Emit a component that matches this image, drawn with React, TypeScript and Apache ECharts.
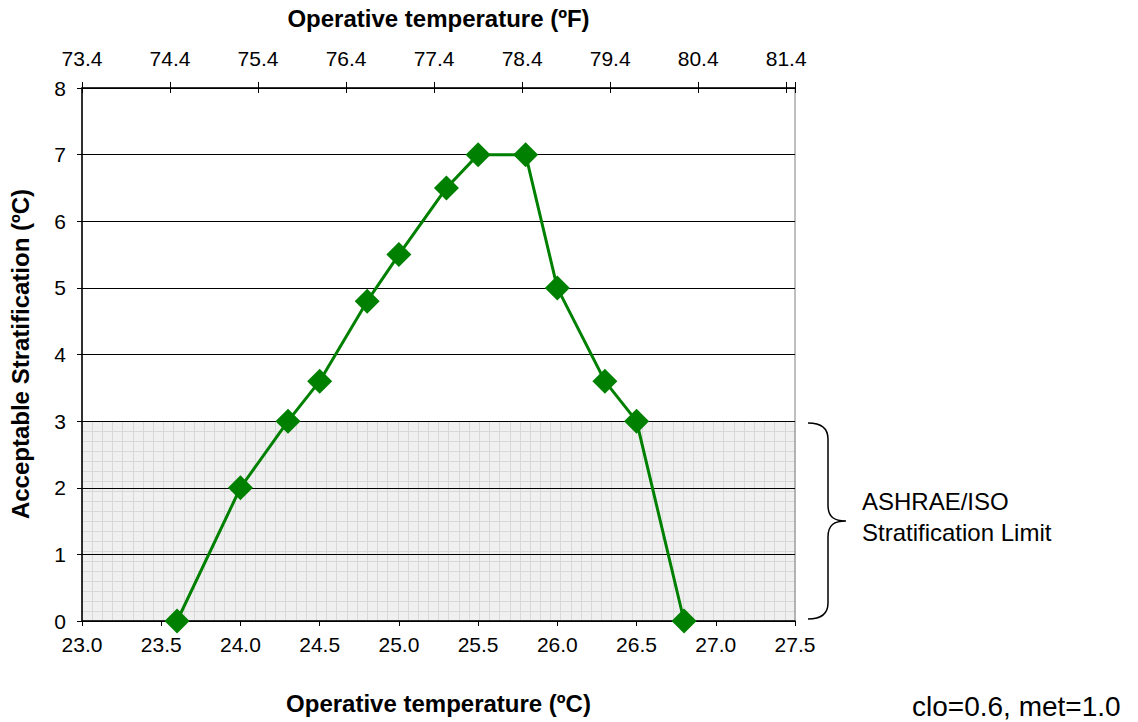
import React, { useEffect, useRef } from "react";
import * as echarts from "echarts";

// Data
const tempC: number[] = [23.6, 24.0, 24.3, 24.5, 24.8, 25.0, 25.3, 25.5, 25.8, 26.0, 26.3, 26.5, 26.8];
const stratification: number[] = [0, 2, 3, 3.6, 4.8, 5.5, 6.5, 7, 7, 5, 3.6, 3, 0];
const limitBand: number[] = [0, 3];
const xMinC = 23.0;
const xMaxC = 27.5;
const fOffset = 73.4; // 23.0 ºC in ºF

const FONT = "'Liberation Sans', Arial, Helvetica, sans-serif";
const BRACE =
  "M0,0 C12,0 20,4 20,16 L20,82 C20,94 26,98 38,98 C26,98 20,102 20,114 L20,180 C20,192 12,196 0,196";

let braceRegistered = false;

export default function App() {
  const ref = useRef<HTMLDivElement>(null);

  useEffect(() => {
    if (!ref.current) return;
    if (!braceRegistered) {
      echarts.graphic.registerShape("brace", echarts.graphic.extendPath(BRACE, {}));
      braceRegistered = true;
    }
    const chart = echarts.init(ref.current, undefined, { renderer: "svg" });
    const data = tempC.map((x, i) => [x, stratification[i]]);
    const fMax = (xMaxC * 9) / 5 + 32 - fOffset;

    chart.setOption({
      animation: false,
      backgroundColor: "#ffffff",
      textStyle: { fontFamily: FONT },
      grid: [
        { left: 82, right: 343, top: 88, bottom: 101, show: true, borderColor: "#808080", borderWidth: 1, backgroundColor: "transparent" },
        { left: 82, right: 343, top: 421.125, bottom: 101, show: false },
      ],
      xAxis: [
        {
          type: "value", gridIndex: 0, position: "bottom", min: xMinC, max: xMaxC, interval: 0.5,
          axisLine: { show: true, lineStyle: { color: "#000", width: 1.5 } },
          axisTick: { show: true, length: 5, lineStyle: { color: "#000" } },
          axisLabel: { fontSize: 21, color: "#000", margin: 13, fontFamily: FONT, formatter: (v: number) => v.toFixed(1) },
          splitLine: { show: false },
          name: "Operative temperature (ºC)", nameLocation: "middle", nameGap: 70,
          nameTextStyle: { fontSize: 24, fontWeight: "bold", color: "#000", fontFamily: FONT },
        },
        {
          type: "value", gridIndex: 0, position: "top", min: 0, max: fMax, interval: 1,
          axisLine: { show: true, lineStyle: { color: "#000", width: 1.5 } },
          axisTick: { show: true, length: 6, lineStyle: { color: "#000" } },
          axisLabel: {
            fontSize: 21, color: "#000", margin: 19, fontFamily: FONT,
            formatter: (v: number) => (v > 8.05 ? "" : (v + fOffset).toFixed(1)),
          },
          splitLine: { show: false },
          name: "Operative temperature (ºF)", nameLocation: "middle", nameGap: 58,
          nameTextStyle: { fontSize: 24, fontWeight: "bold", color: "#000", fontFamily: FONT },
        },
        {
          type: "value", gridIndex: 0, position: "top", min: 0, max: fMax, interval: 1,
          axisLine: { show: false },
          axisTick: { show: true, inside: true, length: 5, lineStyle: { color: "#000" } },
          axisLabel: { show: false },
          splitLine: { show: false },
        },
        {
          type: "value", gridIndex: 1, min: 0, max: 70, interval: 1, z: -1,
          axisLine: { show: false }, axisTick: { show: false }, axisLabel: { show: false },
          splitLine: { show: true, lineStyle: { color: "#e6e6e6", width: 1 } },
        },
      ],
      yAxis: [
        {
          type: "value", gridIndex: 0, min: 0, max: 8, interval: 1,
          axisLine: { show: true, lineStyle: { color: "#000", width: 1.5 } },
          axisTick: { show: true, length: 5, lineStyle: { color: "#000" } },
          axisLabel: { fontSize: 21, color: "#000", margin: 16, fontFamily: FONT },
          splitLine: { show: true, lineStyle: { color: "#000", width: 1 } },
        },
        {
          type: "value", gridIndex: 1, min: 0, max: 20, interval: 1, z: -1,
          axisLine: { show: false }, axisTick: { show: false }, axisLabel: { show: false },
          splitLine: { show: true, lineStyle: { color: "#e6e6e6", width: 1 } },
        },
      ],
      series: [
        {
          type: "line", xAxisIndex: 0, yAxisIndex: 0, data,
          symbol: "diamond", symbolSize: 25,
          itemStyle: { color: "#008000" },
          lineStyle: { color: "#008000", width: 3 },
          markArea: {
            silent: true,
            itemStyle: { color: "rgba(0,0,0,0.06)" },
            data: [[{ yAxis: limitBand[0] }, { yAxis: limitBand[1] }]],
          },
          z: 3,
        },
      ],
      graphic: [
        {
          type: "text", x: 20, y: 354, rotation: Math.PI / 2,
          style: {
            text: "Acceptable Stratification (ºC)", fontSize: 24, fontWeight: "bold", fill: "#000",
            fontFamily: FONT, align: "center", verticalAlign: "middle",
          },
        },
        {
          type: "brace", x: 808, y: 423,
          style: { fill: "none", stroke: "#000", lineWidth: 1.5 },
        },
        {
          type: "text", left: 862, top: 486,
          style: { text: "ASHRAE/ISO\nStratification Limit", fontSize: 24, lineHeight: 31, fill: "#000", fontFamily: FONT },
        },
        {
          type: "text", left: 912, top: 692,
          style: { text: "clo=0.6, met=1.0", fontSize: 28, fill: "#000", fontFamily: FONT },
        },
      ],
    });
    return () => chart.dispose();
  }, []);

  return (
    <div
      ref={ref}
      style={{ position: "fixed", left: 0, top: 0, width: 1138, height: 722, background: "#fff" }}
    />
  );
}
